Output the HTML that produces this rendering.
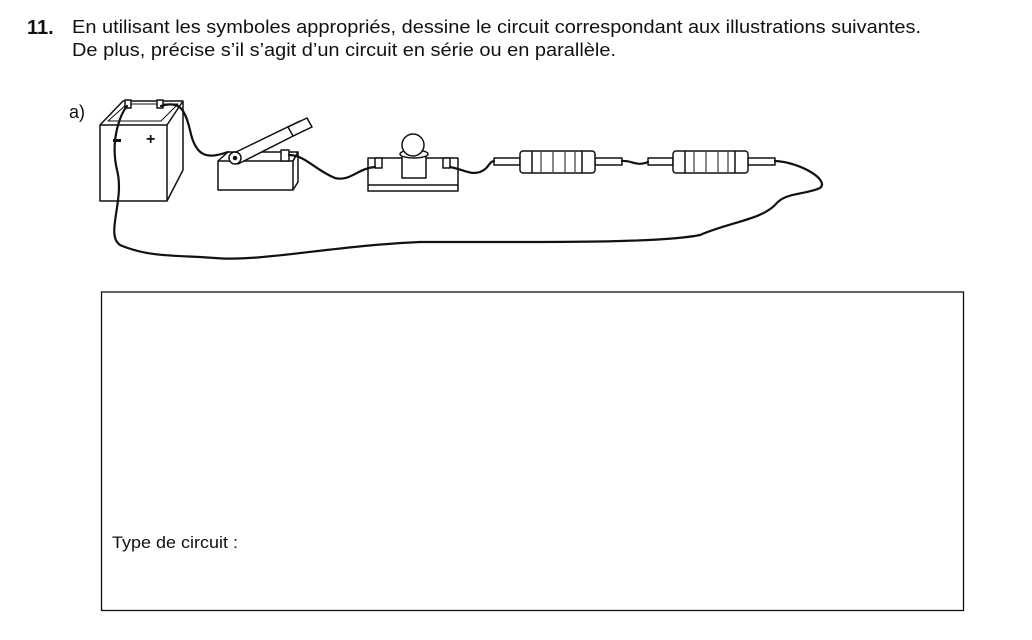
<!DOCTYPE html>
<html><head><meta charset="utf-8"><style>
html,body{margin:0;padding:0;background:#fff;}
svg{display:block;}
text{font-family:"Liberation Sans",Arial,sans-serif;fill:#111;}
</style></head><body>
<svg width="1032" height="640" viewBox="0 0 1032 640" xmlns="http://www.w3.org/2000/svg">
<text x="27" y="34" font-size="20" font-weight="bold">11.</text>
<text x="72" y="33" font-size="18.5" textLength="849" lengthAdjust="spacingAndGlyphs">En utilisant les symboles appropriés, dessine le circuit correspondant aux illustrations suivantes.</text>
<text x="72" y="56" font-size="18.5" textLength="544" lengthAdjust="spacingAndGlyphs">De plus, précise s’il s’agit d’un circuit en série ou en parallèle.</text>
<text x="69" y="118" font-size="18">a)</text>

<g fill="#fff" stroke="#111" stroke-width="1.5" stroke-linejoin="round">
<!-- battery -->
<polygon points="100,125 123,101 183,101 183,170 167,201 100,201"/>
<polyline points="100,125 167,125 183,101" fill="none"/>
<line x1="167" y1="125" x2="167" y2="201"/>
<polygon points="108,121 127,104 178,104 161,121" fill="none" stroke-width="1"/>
<rect x="125" y="100" width="6" height="8"/><rect x="157" y="100" width="6" height="8"/>
<!-- switch -->
<polygon points="218,161 228,152 298,152 293,161 293,190 218,190"/>
<polyline points="218,161 293,161 298,152 298,182 293,190" fill="none"/>
<rect x="281" y="150" width="8" height="11"/>
<polygon points="232,154 300,121 305,130 238,164"/>
<polygon points="288,127 307,118 312,127 293,136"/>
<circle cx="235" cy="158" r="6"/><circle cx="235" cy="158" r="1.5" fill="#111"/>
<!-- lamp -->
<rect x="368" y="158" width="90" height="33"/>
<line x1="368" y1="185" x2="458" y2="185"/>
<rect x="375" y="158" width="7" height="10"/><rect x="443" y="158" width="7" height="10"/>
<rect x="402" y="153" width="24" height="25"/>
<ellipse cx="414" cy="154" rx="14" ry="4"/>
<circle cx="413" cy="145" r="11"/>
<!-- resistors -->
<rect x="494" y="158" width="26" height="7"/>
<rect x="595" y="158" width="27" height="7"/>
<rect x="520" y="151" width="75" height="22" rx="3"/>
<rect x="648" y="158" width="25" height="7"/>
<rect x="748" y="158" width="27" height="7"/>
<rect x="673" y="151" width="75" height="22" rx="3"/>
</g>
<g stroke="#111" stroke-width="1.5">
<line x1="532" y1="151" x2="532" y2="173"/><line x1="582" y1="151" x2="582" y2="173"/>
<line x1="685" y1="151" x2="685" y2="173"/><line x1="735" y1="151" x2="735" y2="173"/>
</g>
<g stroke="#888" stroke-width="2">
<line x1="541" y1="152" x2="541" y2="172"/><line x1="553" y1="152" x2="553" y2="172"/><line x1="565" y1="152" x2="565" y2="172"/><line x1="575" y1="152" x2="575" y2="172"/>
<line x1="694" y1="152" x2="694" y2="172"/><line x1="706" y1="152" x2="706" y2="172"/><line x1="718" y1="152" x2="718" y2="172"/><line x1="728" y1="152" x2="728" y2="172"/>
</g>
<rect x="113" y="139" width="8" height="3" fill="#111"/>
<text x="146" y="144" font-size="16" font-weight="bold">+</text>

<!-- wires -->
<g fill="none" stroke="#111" stroke-width="2.2" stroke-linecap="round">
<path d="M161,106 C180,100 185,110 190,130 C196,160 210,158 228,152"/>
<path d="M289,155 C305,155 315,170 335,178 C350,182 358,168 375,167"/>
<path d="M450,167 C465,170 470,175 480,172 C490,168 488,162 494,161"/>
<path d="M622,161 C632,160 636,167 648,162"/>
<path d="M775,161 C800,162 830,180 820,188 C805,195 785,192 775,205 C760,220 730,222 700,235 C660,243 560,242 420,242 C330,246 260,262 215,258 C180,255 150,258 120,245 C105,235 125,200 117,170 C110,140 120,115 127,106"/>
</g>

<rect x="101.5" y="292" width="862" height="318.5" fill="none" stroke="#111" stroke-width="1.3"/>
<text x="112" y="548" font-size="17" textLength="126" lengthAdjust="spacingAndGlyphs">Type de circuit :</text>
</svg>
</body></html>
